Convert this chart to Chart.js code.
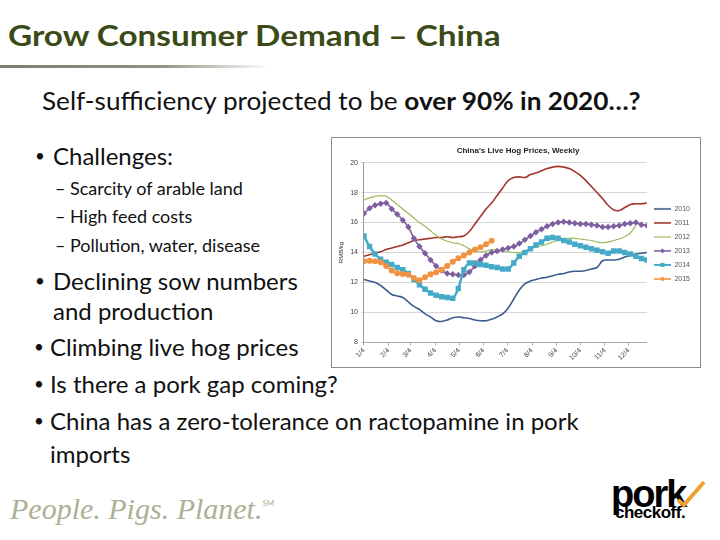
<!DOCTYPE html>
<html><head><meta charset="utf-8">
<script src="https://cdn.jsdelivr.net/npm/chart.js@4"></script>
<style>
html,body{margin:0;padding:0;background:#fff;}
body{width:720px;height:540px;position:relative;overflow:hidden;font-family:Lato,"Open Sans",sans-serif;color:#111;}
.t{position:absolute;white-space:nowrap;}
#title{left:8px;top:18px;font-size:29px;font-weight:bold;color:#3b4b17;line-height:1.2;transform:scaleX(1.147);transform-origin:0 0;}
#rule{position:absolute;left:0;top:65px;width:270px;height:3px;background:linear-gradient(to right,#7a8070 0%,#8e9482 60%,rgba(210,214,200,0) 100%);}
#sub{left:42px;top:85px;font-size:25px;line-height:1.2;transform:scaleX(1.046);transform-origin:0 0;}
.b{font-size:24px;line-height:1.2;}
.d{font-size:17px;line-height:1.2;}
.s{font-size:18px;line-height:1.2;}
#chartbox{position:absolute;left:331px;top:137px;width:368px;height:229px;border:1px solid #8c8c8c;background:#fff;}
#footer{left:10px;top:492px;font-size:30px;font-style:italic;color:#aab196;font-family:"Liberation Serif",serif;}
#footer sup{font-size:8px;font-style:normal;font-family:Lato,sans-serif;vertical-align:top;position:relative;top:6px;}
#pork{left:611px;top:474px;font-size:38px;font-weight:900;font-family:"Liberation Sans Narrow","Liberation Sans",sans-serif;letter-spacing:-2px;line-height:40px;color:#000;}
#checkoff{left:615px;top:503px;font-size:17px;font-weight:bold;font-family:"Liberation Sans Narrow","Liberation Sans",sans-serif;line-height:20px;color:#000;letter-spacing:-0.5px;}
</style></head><body>
<div class="t" id="title">Grow Consumer Demand – China</div>
<div id="rule"></div>
<div class="t" id="sub">Self-sufficiency projected to be <b>over 90% in 2020…?</b></div>
<div class="t d" style="left:35px;top:146px">•</div><div class="t b" style="left:53px;top:142px">Challenges:</div>
<div class="t s" style="left:55px;top:178px">–</div><div class="t s" style="left:70px;top:178px">Scarcity of arable land</div>
<div class="t s" style="left:55px;top:206px">–</div><div class="t s" style="left:70px;top:206px">High feed costs</div>
<div class="t s" style="left:55px;top:235px">–</div><div class="t s" style="left:70px;top:235px">Pollution, water, disease</div>
<div class="t d" style="left:35px;top:271px">•</div><div class="t b" style="left:53px;top:267px">Declining sow numbers</div>
<div class="t b" style="left:53px;top:297px">and production</div>
<div class="t d" style="left:34px;top:337px">•</div><div class="t b" style="left:50px;top:333px">Climbing live hog prices</div>
<div class="t d" style="left:34px;top:374px">•</div><div class="t b" style="left:50px;top:370px">Is there a pork gap coming?</div>
<div class="t d" style="left:34px;top:411px">•</div><div class="t b" style="left:50px;top:407px">China has a zero-tolerance on ractopamine in pork</div>
<div class="t b" style="left:50px;top:440px">imports</div>
<div id="chartbox"><canvas id="c" width="368" height="229"></canvas></div>
<div class="t" id="footer">People. Pigs. Planet.<sup>SM</sup></div>
<div class="t" id="pork">pork</div>
<svg style="position:absolute;left:670px;top:478px" width="40" height="30"><path d="M8 22 L14 27 L34 4" stroke="#f0a030" stroke-width="4" fill="none"/></svg>
<div class="t" id="checkoff">checkoff.</div>
<script>
// Weekly data, x = week index starting 1/4
const years = ['2010','2011','2012','2013','2014','2015'];
const tickLabels = ['1/4','2/4','3/4','4/4','5/4','6/4','7/4','8/4','9/4','10/4','11/4','12/4'];
const tickDays = [0,31,59,90,120,151,181,212,243,273,304,334];
const y2010 = [12.2,12.1,12.0,11.8,11.5,11.2,11.1,11.0,10.7,10.4,10.2,9.9,9.7,9.45,9.4,9.5,9.65,9.7,9.65,9.6,9.5,9.45,9.45,9.55,9.7,9.9,10.3,10.9,11.5,11.9,12.1,12.2,12.3,12.35,12.45,12.55,12.6,12.7,12.75,12.75,12.8,12.9,13.0,13.45,13.5,13.5,13.55,13.7,13.8,13.9,13.95,14.0];
const y2011 = [13.75,13.85,13.95,14.05,14.2,14.3,14.4,14.5,14.65,14.8,14.85,14.9,14.95,15.0,15.0,15.05,15.0,15.05,15.1,15.4,15.9,16.4,16.9,17.3,17.8,18.3,18.8,19.0,19.05,19.0,19.2,19.3,19.45,19.6,19.7,19.75,19.7,19.6,19.4,19.15,18.8,18.4,18.0,17.6,17.15,16.85,16.8,17.0,17.2,17.25,17.25,17.3];
const y2012 = [17.5,17.65,17.75,17.8,17.75,17.5,17.2,16.9,16.6,16.3,16.0,15.75,15.45,15.15,14.9,14.75,14.65,14.6,14.45,14.25,14.1,14.05,14.1,14.2,14.15,14.1,14.05,14.0,14.0,14.1,14.25,14.35,14.45,14.55,14.7,14.8,14.9,14.95,14.95,14.9,14.85,14.8,14.7,14.65,14.7,14.8,14.9,15.05,15.3,15.8];
const y2013 = [16.6,16.95,17.15,17.25,17.3,16.9,16.55,16.15,15.7,14.95,14.4,13.95,13.5,13.1,12.8,12.6,12.55,12.5,12.5,12.7,13.1,13.5,13.8,14.0,14.1,14.2,14.3,14.4,14.6,14.85,15.1,15.35,15.55,15.75,15.9,16.0,16.05,16.0,15.95,15.9,15.9,15.85,15.8,15.7,15.7,15.75,15.8,15.9,15.95,16.0,15.85,15.8];
const y2014 = [15.1,14.4,13.9,13.55,13.35,13.2,13.0,12.85,12.6,12.2,11.85,11.55,11.3,11.15,11.05,11.0,10.95,11.6,12.85,13.3,13.3,13.2,13.15,13.05,13.0,12.9,12.9,13.3,13.75,14.0,14.25,14.5,14.7,14.95,15.0,14.95,14.8,14.7,14.55,14.45,14.35,14.25,14.15,14.05,13.95,14.1,14.1,14.0,13.9,13.75,13.6,13.5];
const y2015 = [13.42,13.45,13.42,13.35,13.1,12.8,12.62,12.57,12.52,12.3,12.15,12.35,12.55,12.68,12.85,13.1,13.38,13.62,13.8,14.0,14.2,14.35,14.55,14.78];

const series = [y2010,y2011,y2012,y2013,y2014,y2015];
const colors = ['#3e5c8e','#a3352f','#9bbb59','#7d5fa0','#45aac8','#f2913f'];
const styles = [
  {pointStyle:false,borderWidth:1.6,pointRadius:0},
  {pointStyle:false,borderWidth:1.6,pointRadius:0},
  {pointStyle:false,borderWidth:1.2,pointRadius:0},
  {pointStyle:'rectRot',borderWidth:1.6,pointRadius:3.2},
  {pointStyle:'rect',borderWidth:2.5,pointRadius:3.8},
  {pointStyle:'circle',borderWidth:1.6,pointRadius:3}
];

function legendImg(i){
  const cv=document.createElement('canvas'); cv.width=17; cv.height=8;
  const g=cv.getContext('2d');
  g.strokeStyle=colors[i]; g.lineWidth=Math.min(styles[i].borderWidth,2); g.beginPath(); g.moveTo(0,4); g.lineTo(17,4); g.stroke();
  g.fillStyle=colors[i];
  const p=styles[i].pointStyle;
  if(p==='rectRot'){g.beginPath();g.moveTo(8.5,1.5);g.lineTo(11,4);g.lineTo(8.5,6.5);g.lineTo(6,4);g.closePath();g.fill();}
  else if(p==='rect'){g.fillRect(6.5,2,4,4);}
  else if(p==='circle'){g.beginPath();g.arc(8.5,4,2,0,Math.PI*2);g.fill();}
  return cv;
}

const datasets = series.map((arr,i)=>({
  label: years[i],
  data: arr.map((v,k)=>({x:k*7,y:v})),
  borderColor: colors[i],
  backgroundColor: colors[i],
  borderWidth: styles[i].borderWidth,
  pointStyle: styles[i].pointStyle || 'circle',
  pointRadius: styles[i].pointRadius,
  pointBorderWidth: 0,
  tension: 0.35,
  order: 5-i
}));

new Chart(document.getElementById('c'), {
  type:'line',
  data:{datasets},
  options:{
    responsive:false, animation:false, devicePixelRatio:1,
    layout:{padding:{left:4,right:0,top:0,bottom:4}},
    plugins:{
      tooltip:{enabled:false},
      title:{display:true,text:"China's Live Hog Prices, Weekly",color:'#222',font:{family:'Liberation Sans',size:8,weight:'bold'},padding:{top:8,bottom:7}},
      legend:{position:'right',align:'start',
        title:{display:true,text:' ',font:{size:7},padding:{top:52,bottom:0}},
        labels:{usePointStyle:true,pointStyleWidth:17,boxHeight:7,padding:7,color:'#555',font:{family:'Liberation Sans',size:7},
          sort:(a,b)=>a.datasetIndex-b.datasetIndex,
          generateLabels:(chart)=>{
            const items=Chart.defaults.plugins.legend.labels.generateLabels(chart);
            items.forEach(it=>{it.pointStyle=legendImg(it.datasetIndex);});
            return items;
          }}
      }
    },
    scales:{
      x:{type:'linear',min:0,max:357,
        afterBuildTicks:(ax)=>{ax.ticks=tickDays.map(v=>({value:v}));},
        ticks:{autoSkip:false,minRotation:45,maxRotation:45,color:'#444',font:{family:'Liberation Sans',size:7},padding:1,
          callback:(v,i)=>tickLabels[i]},
        grid:{drawOnChartArea:false,drawTicks:true,tickLength:3,color:'#aaa'},
        border:{display:true,color:'#aaa'}
      },
      y:{min:8,max:20,
        ticks:{stepSize:2,color:'#444',font:{family:'Liberation Sans',size:7},padding:3},
        title:{display:true,text:'RMB/kg',color:'#333',font:{family:'Liberation Sans',size:6},padding:2},
        grid:{color:'#d6d6d6',tickLength:3},
        border:{display:true,color:'#999'}
      }
    }
  }
});
</script>
</body></html>
